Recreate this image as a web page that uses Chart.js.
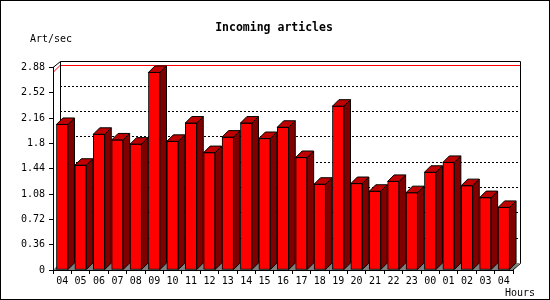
<!DOCTYPE html>
<html>
<head>
<meta charset="utf-8">
<title>Incoming articles</title>
<script src="https://cdn.jsdelivr.net/npm/chart.js@4/dist/chart.umd.min.js"></script>
<style>
  html, body { margin: 0; padding: 0; background: #fff; }
  canvas { display: block; }
</style>
</head>
<body>
<canvas id="chart" width="550" height="300"></canvas>
<script>
/* incoming articles per hour - 3d bar chart */

const hours = ['04', '05', '06', '07', '08', '09', '10', '11', '12', '13', '14', '15', '16',
    '17', '18', '19', '20', '21', '22', '23', '00', '01', '02', '03', '04'];
const artPerSec = [2.07, 1.49, 1.93, 1.85, 1.79, 2.81, 1.83, 2.09, 1.67, 1.89, 2.09, 1.87, 2.03,
    1.60, 1.22, 2.33, 1.23, 1.12, 1.26, 1.10, 1.39, 1.53, 1.20, 1.03, 0.89];
const yTicks = [0, 0.36, 0.72, 1.08, 1.44, 1.8, 2.16, 2.52, 2.88];
const yTickLabels = ['0', '0.36', '0.72', '1.08', '1.44', '1.8', '2.16', '2.52', '2.88'];

const MONO = '"DejaVu Sans Mono", monospace';
const WALL = 7;       // depth of the back wall
const BAR_DEPTH = 6.5;

function px(v) { return Math.round(v) + 0.5; }

const threeD = {
    id: 'threeD',
    beforeDraw(chart) {
        const { ctx, chartArea: a, scales: { y } } = chart;
        ctx.save();
        ctx.fillStyle = '#fff';
        ctx.fillRect(0, 0, chart.width, chart.height);

        // floor
        ctx.fillStyle = '#808080';
        ctx.beginPath();
        ctx.moveTo(a.left, a.bottom);
        ctx.lineTo(a.right, a.bottom);
        ctx.lineTo(a.right + WALL, a.bottom - WALL);
        ctx.lineTo(a.left + WALL, a.bottom - WALL);
        ctx.closePath();
        ctx.fill();

        // dotted grid on the back wall
        ctx.strokeStyle = '#000';
        ctx.lineWidth = 1;
        ctx.setLineDash([2, 2]);
        yTicks.slice(1, -1).forEach(v => {
            const py = px(y.getPixelForValue(v) - WALL);
            ctx.beginPath();
            ctx.moveTo(a.left + WALL, py);
            ctx.lineTo(a.right + WALL, py);
            ctx.stroke();
        });
        ctx.setLineDash([]);

        // max line
        const my = y.getPixelForValue(Math.max(...artPerSec));
        ctx.strokeStyle = '#ff0000';
        ctx.beginPath();
        ctx.moveTo(a.left, my);
        ctx.lineTo(a.left + WALL, px(my - WALL));
        ctx.lineTo(a.right + WALL, px(my - WALL));
        ctx.stroke();

        // back wall frame
        ctx.strokeStyle = '#000';
        ctx.beginPath();
        ctx.moveTo(a.left, a.top);
        ctx.lineTo(px(a.left + WALL), px(a.top - WALL));
        ctx.lineTo(px(a.right + WALL), px(a.top - WALL));
        ctx.lineTo(px(a.right + WALL), px(a.bottom - WALL));
        ctx.lineTo(a.right, a.bottom);
        ctx.moveTo(px(a.left + WALL), px(a.top - WALL));
        ctx.lineTo(px(a.left + WALL), px(a.bottom - WALL));
        ctx.stroke();
        ctx.restore();
    },
    afterDatasetsDraw(chart) {
        const ctx = chart.ctx;
        const meta = chart.getDatasetMeta(0);
        ctx.save();
        ctx.strokeStyle = '#000';
        ctx.lineWidth = 1;
        meta.data.forEach(bar => {
            const { x, y, base, width } = bar.getProps(['x', 'y', 'base', 'width'], true);
            const l = x - width / 2, r = x + width / 2, d = BAR_DEPTH;
            // side
            ctx.fillStyle = '#800000';
            ctx.beginPath();
            ctx.moveTo(r, y);
            ctx.lineTo(r + d, y - d);
            ctx.lineTo(r + d, base - d);
            ctx.lineTo(r, base);
            ctx.closePath();
            ctx.fill();
            ctx.stroke();
            // top
            ctx.fillStyle = '#c00000';
            ctx.beginPath();
            ctx.moveTo(l, y);
            ctx.lineTo(l + d, y - d);
            ctx.lineTo(r + d, y - d);
            ctx.lineTo(r, y);
            ctx.closePath();
            ctx.fill();
            ctx.stroke();
        });
        ctx.restore();
    },
    afterDraw(chart) {
        const ctx = chart.ctx;
        ctx.save();
        ctx.fillStyle = '#000';
        ctx.textBaseline = 'middle';
        ctx.font = 'bold 11.5px ' + MONO;
        ctx.textAlign = 'center';
        ctx.fillText('Incoming articles', 274, 28);
        ctx.font = '10px ' + MONO;
        ctx.textAlign = 'left';
        ctx.fillText('Art/sec', 30, 39);
        ctx.fillText('Hours', 505, 293);
        ctx.strokeStyle = '#000';
        ctx.strokeRect(0.5, 0.5, chart.width - 1, chart.height - 1);
        ctx.restore();
    }
};

Chart.defaults.font.family = MONO;
Chart.defaults.font.size = 10;
Chart.defaults.color = '#000';

new Chart(document.getElementById('chart'), {
    type: 'bar',
    data: {
        labels: hours,
        datasets: [{
            label: 'Art/sec',
            data: artPerSec,
            backgroundColor: '#ff0000',
            borderColor: '#000',
            borderWidth: 1,
            borderSkipped: false,
            barThickness: 11.5
        }]
    },
    options: {
        responsive: false,
        animation: false,
        devicePixelRatio: 1,
        layout: { padding: { left: 0, top: 67.5, right: 37, bottom: 0 } },
        plugins: {
            legend: { display: false },
            title: { display: false },
            tooltip: { enabled: false }
        },
        scales: {
            x: {
                offset: true,
                grid: { offset: true, drawOnChartArea: false, tickLength: 4, color: '#000' },
                border: { color: '#000' },
                ticks: { padding: 1, maxRotation: 0, autoSkip: false },
                afterFit(s) { s.height = 30; }
            },
            y: {
                min: 0,
                max: 2.88,
                afterBuildTicks(s) { s.ticks = yTicks.map(v => ({ value: v })); },
                ticks: { padding: 4, callback: (v, i) => yTickLabels[i] },
                grid: { drawOnChartArea: false, tickLength: 4, color: '#000' },
                border: { color: '#000' },
                afterFit(s) { s.width = 53; }
            }
        }
    },
    plugins: [threeD]
});
</script>
</body>
</html>
